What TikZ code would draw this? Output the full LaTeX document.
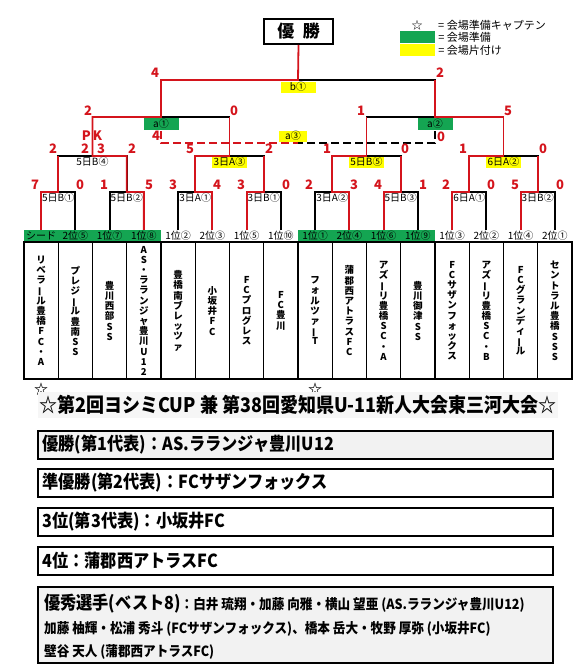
\documentclass[tikz,border=0pt]{standalone}
\usepackage{fontspec}
\setmainfont{Noto Sans CJK JP}
\newfontfamily\condjp{Noto Sans CJK JP}[FakeStretch=0.9]
\usepackage{tikz}
\usetikzlibrary{positioning,calc}
\definecolor{winred}{HTML}{D4141C}
\definecolor{venuegreen}{HTML}{14A552}
\definecolor{cleanyellow}{HTML}{FFFF00}
\definecolor{panelgray}{HTML}{F2F2F2}
\newcommand{\vb}{\rotatebox[origin=c]{90}{ー}}
\newcommand{\fs}[1]{\fontsize{#1}{#1}\selectfont}

\begin{document}
\begin{tikzpicture}[
    x=1pt, y=-1pt,
    bracket/.style={draw=black, line width=1.8pt},
    winpath/.style={draw=winred, line width=1.8pt},
    thirdplace/.style={dash pattern=on 8pt off 4pt},
    score/.style={text=winred, font=\bfseries\fs{13}, inner sep=0pt},
    matchlbl/.style={font=\fs{10}, inner sep=1pt, text height=7.5pt, text depth=1.5pt},
    hilite/.style={matchlbl, fill=cleanyellow, minimum width=35pt},
    venue/.style={matchlbl, fill=venuegreen, minimum width=35pt, minimum height=12pt},
    rowlbl/.style={font=\fs{10}, inner sep=0pt, minimum width=34.25pt, minimum height=12pt},
    seedlbl/.style={rowlbl, fill=venuegreen},
    teambox/.style={draw, line width=1.2pt, minimum width=34.25pt, minimum height=136pt, inner sep=0pt, align=center, font=\bfseries\fontsize{9.5}{10.2}\selectfont},
    capmark/.style={font=\bfseries\fs{14}, inner sep=0pt},
    resultbox/.style={draw, line width=1.5pt, minimum width=515pt, minimum height=28pt, inner sep=0pt},
    resulttxt/.style={anchor=west, inner sep=0pt, font=\condjp\bfseries\fs{18}},
    besttxt/.style={anchor=base west, inner sep=0pt, font=\condjp\bfseries\fs{14}},
    legendtxt/.style={font=\fs{11}, inner sep=0pt}
]
\useasboundingbox (0,0) rectangle (586,669);

% champion box and legend
\node [draw, line width=2pt, minimum width=69pt, minimum height=25pt, font=\bfseries\fs{17}] (champ) at (298.5,31.5) {優\hspace{.5em}勝};
\node [capmark, font=\fs{11}] (capstar) at (417,25) {☆};
\node [legendtxt, anchor=west] (captxt) at (438,25) {=\ 会場準備キャプテン};
\node [fill=venuegreen, minimum width=35pt, minimum height=12pt, inner sep=0pt] (grnkey) at (417.5,37) {};
\node [legendtxt, right=3pt of grnkey] (grntxt) {=\ 会場準備};
\node [fill=cleanyellow, minimum width=35pt, minimum height=12pt, inner sep=0pt, below=1pt of grnkey] (ylwkey) {};
\node [legendtxt, right=3pt of ylwkey] (ylwtxt) {=\ 会場片付け};

% seeding row
\node [seedlbl] (l0) at (41.125,236) {シード};
\node [seedlbl] (l1) at (75.375,236) {2位⑤};
\node [seedlbl] (l2) at (109.625,236) {1位⑦};
\node [seedlbl] (l3) at (143.875,236) {1位⑧};
\node [rowlbl] (l4) at (178.125,236) {1位②};
\node [rowlbl] (l5) at (212.375,236) {2位③};
\node [rowlbl] (l6) at (246.625,236) {1位⑤};
\node [rowlbl] (l7) at (280.875,236) {1位⑩};
\node [seedlbl] (l8) at (315.125,236) {1位①};
\node [seedlbl] (l9) at (349.375,236) {2位④};
\node [seedlbl] (l10) at (383.625,236) {1位⑥};
\node [seedlbl] (l11) at (417.875,236) {1位⑨};
\node [rowlbl] (l12) at (452.125,236) {1位③};
\node [rowlbl] (l13) at (486.375,236) {2位②};
\node [rowlbl] (l14) at (520.625,236) {1位④};
\node [rowlbl] (l15) at (554.875,236) {2位①};

% teams
\node [teambox, below=0pt of l0] (n0) {リ\\ベ\\ラ\\\vb\\ル\\豊\\橋\\F\\C\\・\\A};
\node [teambox, below=0pt of l1] (n1) {プ\\レ\\ジ\\\vb\\ル\\豊\\南\\S\\S};
\node [teambox, below=0pt of l2] (n2) {豊\\川\\西\\部\\S\\S};
\node [teambox, below=0pt of l3] (n3) {A\\S\\・\\ラ\\ラ\\ン\\ジ\\ャ\\豊\\川\\U\\1\\2};
\node [teambox, below=0pt of l4] (n4) {豊\\橋\\南\\ブ\\レ\\ッ\\ツ\\ァ};
\node [teambox, below=0pt of l5] (n5) {小\\坂\\井\\F\\C};
\node [teambox, below=0pt of l6] (n6) {F\\C\\プ\\ロ\\グ\\レ\\ス};
\node [teambox, below=0pt of l7] (n7) {F\\C\\豊\\川};
\node [teambox, below=0pt of l8] (n8) {フ\\ォ\\ル\\ツ\\ァ\\\vb\\T};
\node [teambox, below=0pt of l9] (n9) {蒲\\郡\\西\\ア\\ト\\ラ\\ス\\F\\C};
\node [teambox, below=0pt of l10] (n10) {ア\\ズ\\\vb\\リ\\豊\\橋\\S\\C\\・\\A};
\node [teambox, below=0pt of l11] (n11) {豊\\川\\御\\津\\S\\S};
\node [teambox, below=0pt of l12] (n12) {F\\C\\サ\\ザ\\ン\\フ\\ォ\\ッ\\ク\\ス};
\node [teambox, below=0pt of l13] (n13) {ア\\ズ\\\vb\\リ\\豊\\橋\\S\\C\\・\\B};
\node [teambox, below=0pt of l14] (n14) {F\\C\\グ\\ラ\\ン\\デ\\ィ\\\vb\\ル};
\node [teambox, below=0pt of l15] (n15) {セ\\ン\\ト\\ラ\\ル\\豊\\橋\\S\\S\\S};
\draw [line width=1.8pt] (n0.north west) -- (n15.north east);
\draw [line width=1.8pt] (n0.south west) -- (n15.south east);
\node [capmark, below=3pt of n0] (star0) {☆};
\node [capmark, below=3pt of n8] (star8) {☆};

% match points
\coordinate (m1) at (58.25,192);
\coordinate (m2) at (126.75,192);
\coordinate (m3) at (195.25,192);
\coordinate (m4) at (263.75,192);
\coordinate (m5) at (332.25,192);
\coordinate (m6) at (400.75,192);
\coordinate (m7) at (469.25,192);
\coordinate (m8) at (537.75,192);
\coordinate (q1) at (92.5,156);
\coordinate (q2) at (229.5,156);
\coordinate (q3) at (366.5,156);
\coordinate (q4) at (503.5,156);
\coordinate (s1) at (161,117);
\coordinate (s2) at (435,117);
\coordinate (fin) at (298,80);
\coordinate (tp) at (298,143);
\coordinate (tpl) at (161,131);
\coordinate (tpr) at (435,131);

% bracket
\draw [bracket] (l0.north) |- (m1) -| (l1.north);
\draw [bracket] (l2.north) |- (m2) -| (l3.north);
\draw [bracket] (l4.north) |- (m3) -| (l5.north);
\draw [bracket] (l6.north) |- (m4) -| (l7.north);
\draw [bracket] (l8.north) |- (m5) -| (l9.north);
\draw [bracket] (l10.north) |- (m6) -| (l11.north);
\draw [bracket] (l12.north) |- (m7) -| (l13.north);
\draw [bracket] (l14.north) |- (m8) -| (l15.north);
\draw [bracket] (m1) |- (q1) -| (m2);
\draw [bracket] (m3) |- (q2) -| (m4);
\draw [bracket] (m5) |- (q3) -| (m6);
\draw [bracket] (m7) |- (q4) -| (m8);
\draw [bracket] (q1) |- (s1) -| (q2);
\draw [bracket] (q3) |- (s2) -| (q4);
\draw [bracket] (s1) |- (fin) -| (s2);
\draw [bracket, thirdplace] (tpr) |- (tp);

% winners
\draw [winpath] (l0.north) |- (m1) -- (m1 |- q1);
\draw [winpath] (l3.north) |- (m2) |- (q1) |- (s1) |- (fin) -- (champ.south);
\draw [winpath] (l5.north) |- (m3) |- (q2) -- (q2 |- s1);
\draw [winpath] (l6.north) |- (m4) -- (m4 |- q2);
\draw [winpath] (l9.north) |- (m5) |- (q3) -- (q3 |- s2);
\draw [winpath] (l10.north) |- (m6) -- (m6 |- q3);
\draw [winpath] (l12.north) |- (m7) |- (q4) |- (s2) -- (s2 |- fin);
\draw [winpath] (l14.north) |- (m8) -- (m8 |- q4);
\draw [winpath, thirdplace] (tpl) |- (tp);

% match labels
\node [matchlbl, below=1pt of m1] (m1lbl) {5日B①};
\node [matchlbl, below=1pt of m2] (m2lbl) {5日B②};
\node [matchlbl, below=1pt of m3] (m3lbl) {3日A①};
\node [matchlbl, below=1pt of m4] (m4lbl) {3日B①};
\node [matchlbl, below=1pt of m5] (m5lbl) {3日A②};
\node [matchlbl, below=1pt of m6] (m6lbl) {5日B③};
\node [matchlbl, below=1pt of m7] (m7lbl) {6日A①};
\node [matchlbl, below=1pt of m8] (m8lbl) {3日B②};
\node [matchlbl, below=1pt of q1] (q1lbl) {5日B④};
\node [hilite, below=1pt of q2] (q2lbl) {3日A③};
\node [hilite, below=1pt of q3] (q3lbl) {5日B⑤};
\node [hilite, below=1pt of q4] (q4lbl) {6日A②};
\node [venue, below=1pt of s1] (s1lbl) {a①};
\node [venue, below=1pt of s2] (s2lbl) {a②};
\node [hilite, below=2pt of fin] (finlbl) {b①};
\node [hilite, minimum width=28pt] (tplbl) at (293,136.5) {a③};

% scores
\node [score] (sc1a) at (35,185) {7};
\node [score] (sc1b) at (80,185) {0};
\node [score] (sc2a) at (104,185) {1};
\node [score] (sc2b) at (149,185) {5};
\node [score] (sc3a) at (173,185) {3};
\node [score] (sc3b) at (217,185) {4};
\node [score] (sc4a) at (241,185) {3};
\node [score] (sc4b) at (286,185) {0};
\node [score] (sc5a) at (309,185) {2};
\node [score] (sc5b) at (354,185) {3};
\node [score] (sc6a) at (378,185) {4};
\node [score] (sc6b) at (423,185) {1};
\node [score] (sc7a) at (446,185) {2};
\node [score] (sc7b) at (491,185) {0};
\node [score] (sc8a) at (515,185) {5};
\node [score] (sc8b) at (560,185) {0};
\node [score] (sq1a) at (53,149) {2};
\node [score] (sq1pa) at (85,149) {2};
\node [score] (sq1pb) at (101,149) {3};
\node [score] (sq1b) at (132,149) {2};
\node [score] (pk) at (92,136) {P\,K};
\node [score] (sq2a) at (190,149) {5};
\node [score] (sq2b) at (269,149) {2};
\node [score] (sq3a) at (327,149) {1};
\node [score] (sq3b) at (405,149) {0};
\node [score] (sq4a) at (463,149) {1};
\node [score] (sq4b) at (543,149) {0};
\node [score] (ss1a) at (88,111) {2};
\node [score] (ss1b) at (234,111) {0};
\node [score] (ss2a) at (361,111) {1};
\node [score] (ss2b) at (508,111) {5};
\node [score] (sfa) at (155,73) {4};
\node [score] (sfb) at (440,73) {2};
\node [score] (stpa) at (156,136) {4};
\node [score] (stpb) at (441,137) {0};

% results
\node [fill=gray!7, minimum width=520pt, minimum height=26pt, inner sep=0pt, font=\condjp\bfseries\fs{20}] (title) at (298,405) {☆第2回ヨシミCUP 兼 第38回愛知県U-11新人大会東三河大会☆};
\node [resultbox, fill=panelgray] (res1) at (295.5,445) {};
\node [resulttxt, right=5pt of res1.west] (res1txt) {優勝(第1代表)：AS.ラランジャ豊川U12};
\node [resultbox] (res2) at (295.5,483) {};
\node [resulttxt, right=5pt of res2.west] (res2txt) {準優勝(第2代表)：FCサザンフォックス};
\node [resultbox] (res3) at (295.5,522) {};
\node [resulttxt, right=5pt of res3.west] (res3txt) {3位(第3代表)：小坂井FC};
\node [resultbox] (res4) at (295.5,561) {};
\node [resulttxt, right=5pt of res4.west] (res4txt) {4位：蒲郡西アトラスFC};
\node [resultbox, fill=panelgray, minimum height=76pt] (res5) at (295.5,625) {};
\node [besttxt] (best1) at (44,609) {{\fs{18}優秀選手(ベスト8)}：白井 琉翔・加藤 向雅・横山 望亜 (AS.ラランジャ豊川U12)};
\node [besttxt] (best2) at (44,633) {加藤 柚輝・松浦 秀斗 (FCサザンフォックス)、橋本 岳大・牧野 厚弥 (小坂井FC)};
\node [besttxt] (best3) at (44,656) {壁谷 天人 (蒲郡西アトラスFC)};

\end{tikzpicture}
\end{document}
